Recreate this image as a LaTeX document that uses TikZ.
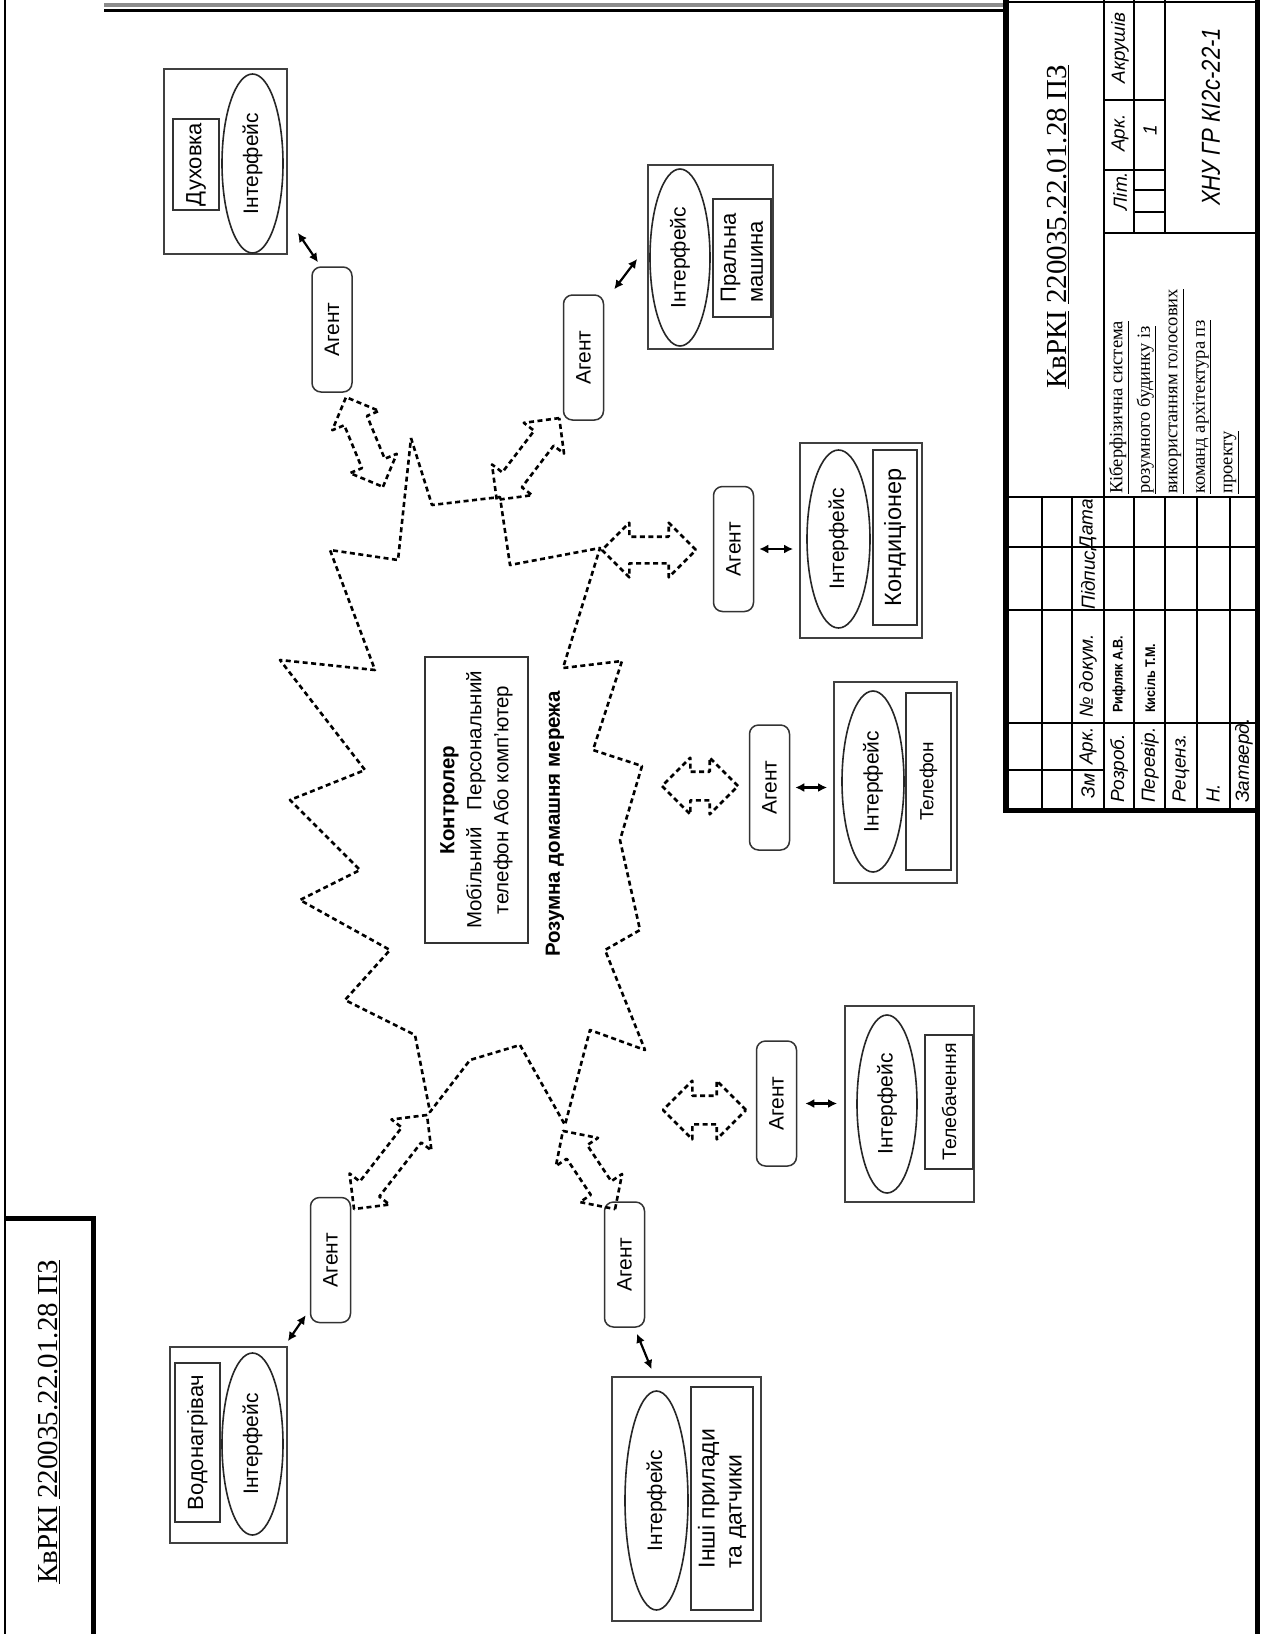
\documentclass[tikz,border=0pt]{standalone}
\usepackage{fontspec}
\setmainfont{Liberation Serif}
\setsansfont{Liberation Sans}
\newfontfamily\gostfont[FakeStretch=0.85]{Liberation Sans}
\newfontfamily\namefont[FakeStretch=0.9]{Liberation Sans}
\usetikzlibrary{arrows.meta,positioning,calc,shapes.geometric,shapes.arrows}

\begin{document}
\begin{tikzpicture}[x=1pt, y=-1pt,
    font=\sffamily\fontsize{21}{25}\selectfont,
    agentbox/.style={draw=black!80, line width=1.5pt, rounded corners=9pt, rotate=90,
      minimum width=125pt, minimum height=40pt, inner sep=0pt},
    framebox/.style={draw=black!75, line width=1.8pt, inner sep=0pt},
    devbox/.style={draw=black!80, line width=2pt, rotate=90, inner sep=2pt, align=left,
      font=\sffamily\fontsize{22}{27}\selectfont},
    iface/.style={ellipse, draw=black!85, line width=1.6pt, rotate=90, inner sep=0pt},
    link/.style={{Latex[length=9pt,width=9pt]}-{Latex[length=9pt,width=9pt]}, line width=2.2pt},
    net/.style={line width=2.6pt, dash pattern=on 5pt off 3.5pt, line join=round},
    netlink/.style={double arrow, draw, net, double arrow head extend=13pt,
      inner xsep=0pt, inner ysep=11pt, minimum height=#1},
    frameline/.style={line width=5pt},
    cellline/.style={line width=2.5pt},
    tbtext/.style={rotate=90, inner sep=0pt, font=\sffamily\itshape\fontsize{19}{22}\selectfont},
    tbname/.style={rotate=90, inner sep=0pt, anchor=west, font=\namefont\bfseries\fontsize{14}{16}\selectfont},
    docno/.style={rotate=90, inner sep=0pt, font=\rmfamily\fontsize{29}{34}\selectfont}
  ]
  \fill[white] (0,0) rectangle (1270,1634);
  \useasboundingbox (0,0) rectangle (1270,1634);

  % drawing frame
  \draw[line width=2.5pt] (5,0) -- (5,1634);
  \draw[line width=4pt, black!45] (104,5) -- (1005,5);
  \draw[line width=3pt] (104,10) -- (1005,10);
  \draw[frameline] (5,1218) -- (93,1218) -- (93,1634);
  \node[docno] (docleft) at (49,1422) {\underline{КвРКІ} \underline{220035.22.01.28 ПЗ}};

  % network
  \draw[net] (411,438) -- (432,505) -- (500,497) -- (510,565) -- (600,548) -- (563,668)
    -- (622,661) -- (593,750) -- (642,766) -- (620,840) -- (640,930) -- (605,950)
    -- (645,1050) -- (590,1030) -- (565,1125) -- (520,1045) -- (470,1060) -- (430,1112)
    -- (415,1035) -- (345,1000) -- (390,950) -- (300,900) -- (360,870) -- (290,800)
    -- (365,770) -- (280,660) -- (375,670) -- (330,550) -- (398,560) -- cycle;

  \node[rotate=90, draw=black!80, line width=2pt, minimum width=286pt, minimum height=103pt,
    inner sep=0pt, align=center, font=\sffamily\fontsize{20.5}{27}\selectfont] (ctrl) at (476.5,800)
    {\textbf{Контролер}\\Мобільний\ \ \ Персональний\\телефон Або комп'ютер};
  \node[rotate=90, inner sep=0pt, font=\sffamily\bfseries\fontsize{20.5}{24}\selectfont] (netname)
    at (555,824) {Розумна домашня мережа};

  % oven
  \node[framebox, minimum width=123pt, minimum height=185pt] (ob1) at (225.5,161.5) {};
  \node[devbox, minimum width=91pt, minimum height=46pt] (dev1) at (196,164.5) {Духовка};
  \node[iface, minimum width=179pt, minimum height=61pt] (if1) at (252.5,163.5) {Інтерфейс};
  \node[agentbox] (ag1) at (332,329.5) {Агент};
  \draw[link] ($(ag1.east)+(-14,-4)$) -- ($(ob1.south east)+(10,-22)$);
  \node[netlink=97pt, rotate=-67.6] (na1) at (364.5,442) {};

  % washing machine
  \node[framebox, minimum width=125pt, minimum height=184pt] (ob2) at (710.5,257) {};
  \node[devbox, minimum width=118pt, minimum height=58pt] (dev2) at (742,258) {Пральна\\машина};
  \node[iface, minimum width=177pt, minimum height=60pt] (if2) at (680,257.5) {Інтерфейс};
  \node[agentbox] (ag2) at (583.5,357.5) {Агент};
  \draw[link] ($(ag2.south east)+(10,-5)$) -- ($(ob2.west)+(-10,2)$);
  \node[netlink=103pt, rotate=52.6] (na2) at (528,459) {};

  % air conditioner
  \node[framebox, minimum width=122pt, minimum height=195pt] (ob3) at (861,540.5) {};
  \node[devbox, minimum width=175pt, minimum height=44pt, font=\sffamily\fontsize{23.5}{27}\selectfont]
    (dev3) at (895,537.5) {Кондиціонер};
  \node[iface, minimum width=178pt, minimum height=63pt] (if3) at (838.5,539) {Інтерфейс};
  \node[agentbox] (ag3) at (733.5,549) {Агент};
  \draw[link, shorten <=5pt, shorten >=6pt] (ag3.south) -- (ag3.south -| ob3.west);
  \node[netlink=94pt, inner ysep=12pt, double arrow head extend=14pt] (na3) at (649,550) {};

  % telephone
  \node[framebox, minimum width=123pt, minimum height=201pt] (ob4) at (895.5,782.5) {};
  \node[devbox, minimum width=177pt, minimum height=45pt, font=\sffamily\fontsize{19}{23}\selectfont]
    (dev4) at (928.5,781.5) {Телефон};
  \node[iface, minimum width=181pt, minimum height=62pt] (if4) at (873,781.5) {Інтерфейс};
  \node[agentbox] (ag4) at (769.5,787.5) {Агент};
  \draw[link, shorten <=5pt, shorten >=6pt] (ag4.south) -- (ag4.south -| ob4.west);
  \node[netlink=76pt, inner ysep=13pt, double arrow head extend=14pt] (na4) at (700,786) {};

  % television
  \node[framebox, minimum width=129pt, minimum height=196pt] (ob5) at (909.5,1104) {};
  \node[devbox, minimum width=134pt, minimum height=48pt, font=\sffamily\fontsize{19.5}{23}\selectfont]
    (dev5) at (949,1102) {Телебачення};
  \node[iface, minimum width=178pt, minimum height=60pt] (if5) at (887,1104) {Інтерфейс};
  \node[agentbox] (ag5) at (776.5,1103.5) {Агент};
  \draw[link, shorten <=8pt, shorten >=7pt] (ag5.south) -- (ag5.south -| ob5.west);
  \node[netlink=83pt, inner ysep=13pt, double arrow head extend=15pt] (na5) at (704.5,1110) {};

  % water heater
  \node[framebox, minimum width=117pt, minimum height=196pt] (ob6) at (228.5,1445) {};
  \node[devbox, minimum width=159pt, minimum height=45pt] (dev6) at (197.5,1442.5) {Водонагрівач};
  \node[iface, minimum width=182pt, minimum height=61pt] (if6) at (252.5,1444) {Інтерфейс};
  \node[agentbox] (ag6) at (330.5,1260) {Агент};
  \draw[link] ($(ag6.north west)+(-4,-8)$) -- ($(ob6.north east)+(0,-5)$);
  \node[netlink=119pt, rotate=52.2] (na6) at (390.5,1162) {};

  % other devices
  \node[framebox, minimum width=149pt, minimum height=244pt] (ob7) at (686.5,1499) {};
  \node[devbox, minimum width=223pt, minimum height=62pt, font=\sffamily\fontsize{23}{27}\selectfont]
    (dev7) at (722,1498.5) {Інші прилади\\та датчики};
  \node[iface, minimum width=219pt, minimum height=63pt] (if7) at (656.5,1500.5) {Інтерфейс};
  \node[agentbox] (ag7) at (624.5,1264.5) {Агент};
  \draw[link] ($(ag7.west)+(12.5,6)$) -- ($(ob7.north)+(-35,-7)$);
  \node[netlink=94pt, rotate=-56.3] (na7) at (589,1170) {};

  % title block
  \draw[line width=6pt] (1006,0) -- (1006,810);
  \draw[frameline] (1257,0) -- (1257,1634);
  \draw[frameline] (1003,810) -- (1260,810);
  \draw[line width=2pt] (1006,2) -- (1257,2);
  \draw[cellline] (1104,0) -- (1104,810);
  \draw[cellline] (1104,233) -- (1257,233);
  \draw[cellline] (1008,497) -- (1257,497);
  \draw[cellline] (1134,0) -- (1134,233);
  \draw[cellline] (1165,0) -- (1165,233);
  \draw[cellline] (1104,100) -- (1165,100);
  \draw[cellline] (1104,170) -- (1165,170);
  \draw[cellline] (1134,190) -- (1165,190);
  \draw[cellline] (1134,212) -- (1165,212);
  \foreach \cx in {1042,1072,1134,1165,1197,1230}
    \draw[cellline] (\cx,497) -- (\cx,810);
  \foreach \cy in {547,610,723}
    \draw[cellline] (1008,\cy) -- (1257,\cy);
  \draw[cellline] (1008,770) -- (1104,770);

  \node[docno] (doctop) at (1058,227) {\underline{КвРКІ} \underline{220035.22.01.28 ПЗ}};
  \node[rotate=90, anchor=north west, inner sep=0pt, align=left,
    font=\rmfamily\fontsize{18.5}{27.5}\selectfont] (topic) at (1109,494)
    {\underline{Кіберфізична система}\\\underline{розумного будинку із}\\
     \underline{використанням голосових}\\\underline{команд архітектура пз}\\\underline{проекту}};
  \node[tbtext, font=\gostfont\itshape\fontsize{26}{30}\selectfont] (group) at (1211,117) {ХНУ ГР КІ2с-22-1};
  \node[tbtext] (sheets) at (1120,48) {Акрушів};
  \node[tbtext] (sheet) at (1120,133) {Арк.};
  \node[tbtext] (lit) at (1120,191) {Літ.};
  \node[tbtext] (sheetno) at (1150,130) {1};

  \node[tbtext] (hzm) at (1088,786) {Зм};
  \node[tbtext] (hark) at (1088,746) {Арк.};
  \node[tbtext] (hdoc) at (1088,676) {№ докум.};
  \node[tbtext] (hsign) at (1088,580) {Підпис};
  \node[tbtext] (hdate) at (1088,524) {Дата};

  \node[tbtext, anchor=west] (rdev) at (1119,803) {Розроб.};
  \node[tbtext, anchor=west] (rchk) at (1150,803) {Перевір.};
  \node[tbtext, anchor=west] (rrev) at (1181,803) {Реценз.};
  \node[tbtext, anchor=west] (rn) at (1213,803) {Н.};
  \node[tbtext, anchor=west] (rapp) at (1244,803) {Затверд.};
  \node[tbname] (ndev) at (1119,713) {Рифляк А.В.};
  \node[tbname] (nchk) at (1150,713) {Кисіль Т.М.};
\end{tikzpicture}
\end{document}
